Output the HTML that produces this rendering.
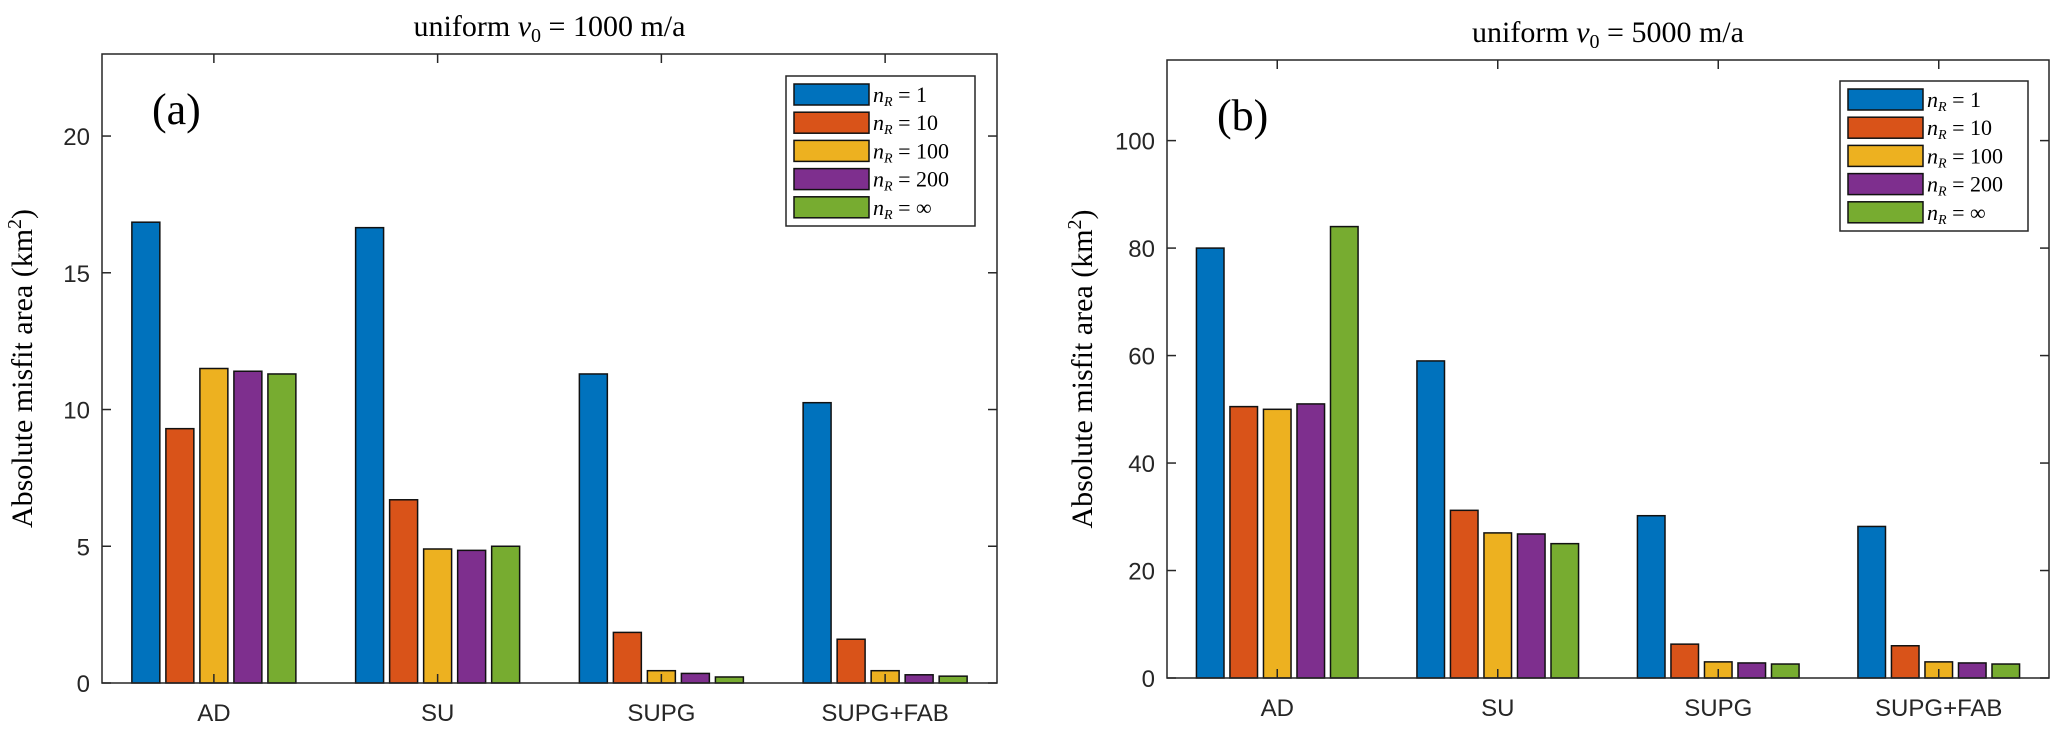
<!DOCTYPE html>
<html><head><meta charset="utf-8"><style>
body{margin:0;background:#fff;}
svg{display:block;}
.tk{font-family:"Liberation Sans",sans-serif;font-size:24px;fill:#262626;}
.ser{font-family:"Liberation Serif",serif;fill:#000;}
</style></head><body>
<svg id="chart" width="2067" height="736" viewBox="0 0 2067 736"></svg>
<script>
const categories = ["AD","SU","SUPG","SUPG+FAB"];
const seriesLabels = ["1","10","100","200","\u221E"];
const colors = ["#0072BD","#D95319","#EDB120","#7E2F8E","#77AC30"];
const valuesA_n1 = [16.85,16.65,11.3,10.25];
const valuesA_n10 = [9.3,6.7,1.85,1.6];
const valuesA_n100 = [11.5,4.9,0.45,0.45];
const valuesA_n200 = [11.4,4.85,0.35,0.3];
const valuesA_inf = [11.3,5.0,0.22,0.25];
const valuesB_n1 = [80,59,30.2,28.2];
const valuesB_n10 = [50.5,31.2,6.3,6.0];
const valuesB_n100 = [50,27,3.0,3.0];
const valuesB_n200 = [51,26.8,2.8,2.8];
const valuesB_inf = [84,25,2.6,2.6];
const ticksA = [0,5,10,15,20];
const ticksB = [0,20,40,60,80,100];

const svg = document.getElementById('chart');
const NS = 'http://www.w3.org/2000/svg';
function mk(tag, attrs, parent){const e=document.createElementNS(NS,tag);for(const k in attrs)e.setAttribute(k,attrs[k]);(parent||svg).appendChild(e);return e;}

function panel(p){
  const g = mk('g',{});
  
  
  const xs = v => p.L + (v-0.5)/4*(p.R-p.L);
  const ys = v => p.B - v/p.ymax*(p.B-p.T);
  const t = mk('text',{x:(p.L+p.R)/2,y:p.T-18,'text-anchor':'middle','font-size':'30',class:'ser'},g);
  
  
  t.innerHTML = 'uniform <tspan font-style="italic">v</tspan><tspan font-size="20" dy="6">0</tspan><tspan dy="-6"> = '+p.v+' m/a</tspan>';
  const series = p.series;
  const bw = 0.125*(p.R-p.L)/4, step = 0.152*(p.R-p.L)/4;
  for(let c=0;c<categories.length;c++){
    for(let s=0;s<series.length;s++){
      const cx = xs(c+1) + (s-2)*step;
      const y = ys(series[s][c]);
      const r = mk('rect',{x:cx-bw/2,y:y,width:bw,height:p.B-y,fill:colors[s],stroke:'#111','stroke-width':1.5},g);
      
      
    }
  }
  const box = mk('rect',{x:p.L,y:p.T,width:p.R-p.L,height:p.B-p.T,fill:'none',stroke:'#262626','stroke-width':1.5},g);
  
  
  for(let c=0;c<categories.length;c++){
    const x=xs(c+1);
    mk('line',{x1:x,x2:x,y1:p.B,y2:p.B-9,stroke:'#262626','stroke-width':1.5},g);
    mk('line',{x1:x,x2:x,y1:p.T,y2:p.T+9,stroke:'#262626','stroke-width':1.5},g);
    const tl = mk('text',{x:x,y:p.B+38,'text-anchor':'middle',class:'tk'},g);
    
    
    tl.textContent = categories[c];
  }
  for(const v of p.ticks){
    const y=ys(v);
    mk('line',{x1:p.L,x2:p.L+9,y1:y,y2:y,stroke:'#262626','stroke-width':1.5},g);
    mk('line',{x1:p.R,x2:p.R-9,y1:y,y2:y,stroke:'#262626','stroke-width':1.5},g);
    const tl = mk('text',{x:p.L-12,y:y+9,'text-anchor':'end',class:'tk'},g);
    
    
    tl.textContent = v;
  }
  const yl = mk('text',{x:0,y:0,'text-anchor':'middle','font-size':'30',class:'ser',transform:'translate('+p.ylx+','+((p.T+p.B)/2)+') rotate(-90)'},g);
  
  
  yl.innerHTML = 'Absolute misfit area (km<tspan font-size="20" dy="-11">2</tspan><tspan dy="11">)</tspan>';
  const pl = mk('text',{x:p.L+50,y:p.T+70,'font-size':'44',class:'ser'},g);
  
  
  pl.textContent = '('+p.id+')';
  const lg = mk('g',{},g);
  
  
  mk('rect',{x:p.lx,y:p.ly,width:p.lw,height:150,fill:'#fff',stroke:'#262626','stroke-width':1.5},lg);
  for(let s=0;s<5;s++){
    const e = mk('g',{},lg);
    
    
    const y0 = p.ly+8+s*28.2;
    mk('rect',{x:p.lx+8,y:y0,width:75,height:21,fill:colors[s],stroke:'#111','stroke-width':1.5},e);
    const tx = mk('text',{x:p.lx+87,y:y0+18,'font-size':'22',class:'ser'},e);
    tx.innerHTML = '<tspan font-style="italic">n</tspan><tspan font-size="14" font-style="italic" dy="4">R</tspan><tspan dy="-4"> = '+seriesLabels[s]+'</tspan>';
  }
}
panel({id:'a',L:102,R:997,T:54,B:683,ymax:23,ticks:ticksA,v:'1000',ylx:32,lx:786,ly:76,lw:189,
  series:[valuesA_n1,valuesA_n10,valuesA_n100,valuesA_n200,valuesA_inf]});
panel({id:'b',L:1167,R:2049,T:60,B:678,ymax:115,ticks:ticksB,v:'5000',ylx:1092,lx:1840,ly:81,lw:188,
  series:[valuesB_n1,valuesB_n10,valuesB_n100,valuesB_n200,valuesB_inf]});
</script>
</body></html>
